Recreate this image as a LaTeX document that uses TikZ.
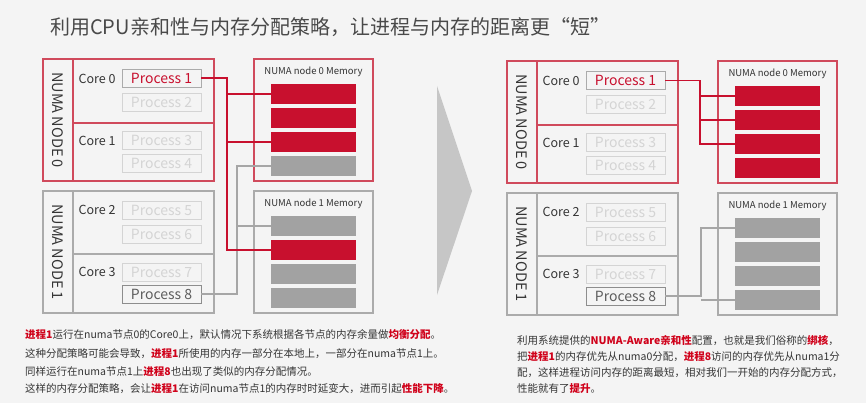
\documentclass[tikz,border=0pt]{standalone}
\usepackage{fontspec}
\setmainfont{Noto Sans CJK SC}
\usetikzlibrary{calc}
\definecolor{bg}{HTML}{F4F4F4}
\definecolor{myred}{HTML}{C8102E}
\definecolor{boxred}{HTML}{D04A5C}
\definecolor{boxgray}{HTML}{ABABAB}
\definecolor{blockgray}{HTML}{A2A2A2}
\definecolor{faint}{HTML}{D4D4D4}
\definecolor{dark}{HTML}{353535}
\definecolor{hl}{HTML}{D0021B}
\definecolor{arrowgray}{HTML}{C6C6C6}
\definecolor{linegray}{HTML}{A6A6A6}
\newcommand\hlt{\bfseries\color{hl}}
\tikzset{
  numabox/.style={draw, line width=1.1pt, minimum width=171pt, minimum height=122pt, inner sep=0pt, outer sep=0pt},
  membox/.style={draw, line width=1.1pt, minimum width=119pt, minimum height=122pt, inner sep=0pt, outer sep=0pt},
  vlabel/.style={rotate=-90, font=\fontsize{14.5}{16}\selectfont, text=dark},
  corelbl/.style={font=\fontsize{12.5}{14}\selectfont, text=dark},
  procbox/.style={draw=faint, line width=0.9pt, minimum width=79pt, minimum height=18pt, inner sep=0pt, outer sep=0pt, text=faint, font=\fontsize{14}{16}\selectfont},
  procred/.style={procbox, draw=boxgray, text=myred},
  procdark/.style={procbox, draw=linegray!85!black, text=dark!80},
  memtitle/.style={font=\fontsize{9.5}{11}\selectfont, text=dark},
  block/.style={minimum width=85pt, minimum height=20pt, inner sep=0pt, outer sep=0pt},
  redthick/.style={draw=myred, line width=2pt},
  redthin/.style={draw=myred, line width=1.1pt},
  graythick/.style={draw=linegray, line width=1.6pt},
  graythin/.style={draw=linegray, line width=1.1pt},
  body/.style={anchor=west, inner sep=0pt, font=\fontsize{10.5}{12}\selectfont, text=dark},
}
% #1 prefix, #2 dx, #3 dy, #4 mem0 colours, #5 mem1 colours
\newcommand\numapanel[5]{%
\begin{scope}[shift={(#2,#3)}]
  \node[numabox, draw=boxred] (#1n0) at (128.5,120) {};
  \draw[boxred, line width=1.1pt] (73,59) -- (73,181) (73,123) -- (214,123);
  \node[vlabel] (#1v0) at (58,120) {NUMA NODE 0};
  \node[numabox, draw=boxgray] (#1n1) at (128.5,252) {};
  \draw[boxgray, line width=1.1pt] (73,191) -- (73,313) (73,254) -- (214,254);
  \node[vlabel] (#1v1) at (58,252) {NUMA NODE 1};
  \node[corelbl] (#1c0) at (97,79) {Core 0};
  \node[corelbl] (#1c1) at (97,141) {Core 1};
  \node[corelbl] (#1c2) at (97,210) {Core 2};
  \node[corelbl] (#1c3) at (97,272) {Core 3};
  \node[procred] (#1p1) at (161.5,78.5) {Process 1};
  \node[procbox] (#1p2) at (161.5,102.5) {Process 2};
  \node[procbox] (#1p3) at (161.5,140.5) {Process 3};
  \node[procbox] (#1p4) at (161.5,163) {Process 4};
  \node[procbox] (#1p5) at (161.5,210) {Process 5};
  \node[procbox] (#1p6) at (161.5,234) {Process 6};
  \node[procbox] (#1p7) at (161.5,272.5) {Process 7};
  \node[procdark] (#1p8) at (161.5,294) {Process 8};
  \node[membox, draw=boxred] (#1m0) at (313.5,120) {};
  \node[memtitle] (#1t0) at (313.5,72) {NUMA node 0 Memory};
  \foreach \c [count=\i] in {#4} {\node[block, fill=\c] (#1ma\i) at (313.5,70+24*\i) {};}
  \node[membox, draw=boxgray] (#1m1) at (313.5,252) {};
  \node[memtitle] (#1t1) at (313.5,204) {NUMA node 1 Memory};
  \foreach \c [count=\i] in {#5} {\node[block, fill=\c] (#1mb\i) at (313.5,202+24*\i) {};}
\end{scope}}

\begin{document}
\begin{tikzpicture}[x=1pt, y=-1pt]
  \fill[bg] (0,0) rectangle (866,403);
  \useasboundingbox (0,0) rectangle (866,403);
  \node[anchor=west, inner sep=0pt, font=\fontsize{20}{24}\selectfont, text=dark!90] (title) at (50,27)
    {利用CPU亲和性与内存分配策略，让进程与内存的距离更“短”};

  \numapanel{L}{0}{0}{myred,myred,myred,blockgray}{blockgray,myred,blockgray,blockgray}
  \numapanel{R}{464}{2}{myred,myred,myred,myred}{blockgray,blockgray,blockgray,blockgray}

  % left connectors
  \draw[graythick] (Lp8.east) -- ++(36,0) |- (Lma4.west);
  \draw[graythin] (Lmb1.west) -- ++(-34,0);
  \draw[redthick] (Lp1.east) -- ++(26,0) |- (Lmb2.west);
  \draw[redthin] (Lma1.west) -- ++(-44,0);
  \draw[redthin] (Lma3.west) -- ++(-44,0);

  % right connectors
  \draw[redthin] (Rp1.east) -- ++(35,0) |- (Rma3.west);
  \draw[redthin] (Rma1.west) -- ++(-35,0);
  \draw[redthin] (Rma2.west) -- ++(-35,0);
  \draw[graythin] (Rp8.east) -- ++(36,0) |- (Rmb1.west);
  \draw[graythin] (Rmb4.west) -- ++(-34,0);

  % arrow
  \fill[arrowgray] (437,86) -- (472,191) -- (437,295) -- cycle;

  % left text
  \node[body] (l1) at (25,335) {{\hlt 进程1}运行在numa节点0的Core0上，默认情况下系统根据各节点的内存余量做{\hlt 均衡分配}。};
  \node[body] (l2) at (25,354) {这种分配策略可能会导致，{\hlt 进程1}所使用的内存一部分在本地上，一部分在numa节点1上。};
  \node[body] (l3) at (25,372) {同样运行在numa节点1上{\hlt 进程8}也出现了类似的内存分配情况。};
  \node[body] (l4) at (25,389) {这样的内存分配策略，会让{\hlt 进程1}在访问numa节点1的内存时时延变大，进而引起{\hlt 性能下降}。};

  % right text
  \node[body] (r1) at (517,341) {利用系统提供的{\hlt NUMA-Aware亲和性}配置，也就是我们俗称的{\hlt 绑核}，};
  \node[body] (r2) at (517,357) {把{\hlt 进程1}的内存优先从numa0分配，{\hlt 进程8}访问的内存优先从numa1分};
  \node[body] (r3) at (517,373) {配，这样进程访问内存的距离最短，相对我们一开始的内存分配方式，};
  \node[body] (r4) at (517,389) {性能就有了{\hlt 提升}。};
\end{tikzpicture}
\end{document}
